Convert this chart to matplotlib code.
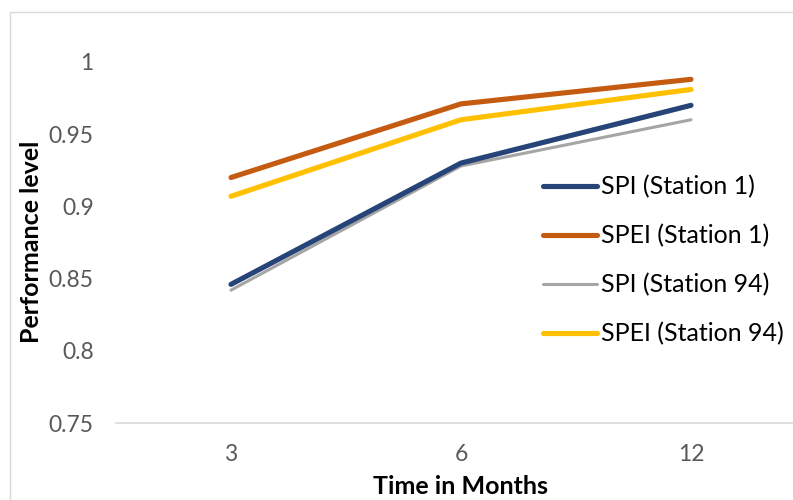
import matplotlib
matplotlib.use("Agg")
import matplotlib.pyplot as plt
from matplotlib.patches import Rectangle

plt.rcParams['font.family'] = ['Lato', 'DejaVu Sans']

months = ["3", "6", "12"]
spi_st1 = [0.846, 0.930, 0.970]
spei_st1 = [0.920, 0.971, 0.988]
spi_st94 = [0.842, 0.928, 0.960]
spei_st94 = [0.907, 0.960, 0.981]

series = [
    ("SPI (Station 1)", spi_st1, "#264478", 3.7, 4),
    ("SPEI (Station 1)", spei_st1, "#C55A11", 3.7, 3),
    ("SPI (Station 94)", spi_st94, "#A5A5A5", 2.2, 2),
    ("SPEI (Station 94)", spei_st94, "#FFC000", 3.7, 3),
]

W, H = 793, 500
fig = plt.figure(figsize=(W / 100, H / 100), dpi=100)

# outer chart border (runs off the right and bottom edges)
fig.patches.append(Rectangle((10 / W, -0.1), 1.2, 1 - 12 / H + 0.1,
                             transform=fig.transFigure, fill=False,
                             edgecolor="#D9D9D9", linewidth=1.0))

ax = fig.add_axes([116 / W, 1 - 423 / H, 690 / W, 361 / H])
x = list(range(len(months)))
for label, vals, color, lw, z in series:
    ax.plot(x, vals, color=color, linewidth=lw, label=label,
            solid_capstyle="round", solid_joinstyle="round", zorder=z)

ax.set_xlim(-0.5, len(months) - 0.5)
ax.set_ylim(0.75, 1.0)
ax.set_xticks(x)
ax.set_xticklabels(months)
ax.set_yticks([0.75, 0.8, 0.85, 0.9, 0.95, 1.0])
ax.set_yticklabels(["0.75", "0.8", "0.85", "0.9", "0.95", "1"])
ax.tick_params(axis="both", length=0, labelsize=16.5, labelcolor="#595959")
ax.tick_params(axis="x", pad=15)
ax.tick_params(axis="y", pad=16)

for side in ("top", "right", "left"):
    ax.spines[side].set_visible(False)
ax.spines["bottom"].set_color("#D9D9D9")
ax.spines["bottom"].set_linewidth(1.2)
ax.set_facecolor("none")

fig.text(461 / W, 1 - 487 / H, "Time in Months", ha="center", va="center",
         fontsize=18, fontweight="bold", color="black")
fig.text(32 / W, 1 - 242 / H, "Performance level", ha="center", va="center",
         rotation=90, fontsize=18, fontweight="bold", color="black")

ax.legend(loc="upper left", bbox_to_anchor=(543 / W, 1 - 175 / H),
          bbox_transform=fig.transFigure, frameon=False, fontsize=18,
          handlelength=2.16, handletextpad=0.16, labelspacing=1.03,
          borderpad=0, borderaxespad=0)

fig.savefig("out.png", dpi=100)
